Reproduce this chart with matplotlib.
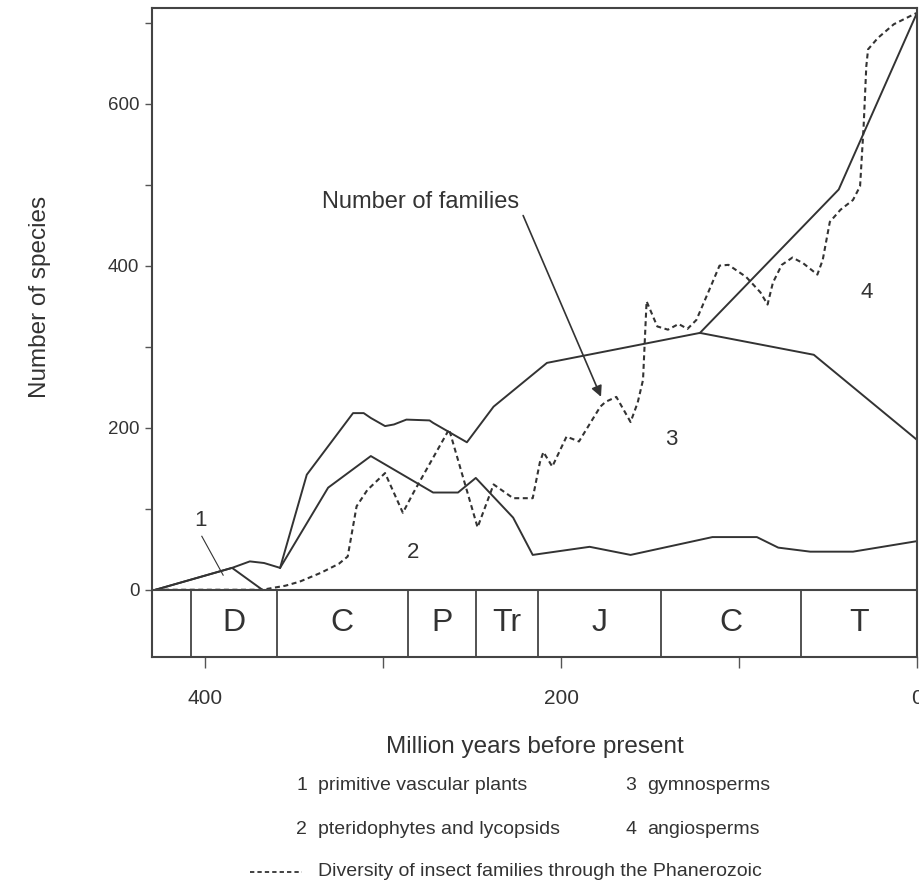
import matplotlib.pyplot as plt
from matplotlib.lines import Line2D

plt.rcParams['font.family'] = ['Liberation Sans', 'DejaVu Sans']

# Data (million years before present, number of species)
prim_t = [428, 385, 368]
prim_v = [0, 27, 0]

pter_t = [428, 385, 375, 367, 358, 331, 307, 272, 258, 248, 227, 216, 184, 161, 115, 90, 78, 60, 36, 0]
pter_v = [0, 27, 35, 33, 27, 126, 165, 120, 120, 138, 89, 43, 53, 43, 65, 65, 52, 47, 47, 60]

gym_t = [358, 343, 317, 311, 307, 299, 294, 287, 274, 272, 253, 238, 208, 122, 58, 0]
gym_v = [27, 142, 218, 218, 212, 202, 204, 210, 209, 206, 182, 226, 280, 317, 290, 185]

angio_t = [122, 44, 0]
angio_v = [317, 494, 712]

insect_t = [428, 368, 355, 347, 335, 325, 320, 315, 309, 299, 289, 283, 263, 247, 238, 227,
            216, 212, 210, 205, 197, 190, 178, 175, 169, 161, 157, 154, 152, 146, 140, 134,
            129, 124, 116, 111, 106, 96, 88, 84, 81, 76, 70, 64, 56, 53, 49, 43, 36, 32,
            30, 28.5, 27.5, 22, 13, 2, 0]
insect_v = [0, 0, 5, 10, 21, 32, 41, 103, 123, 144, 95, 120, 198, 77, 130, 113,
            113, 157, 170, 152, 189, 183, 226, 232, 238, 207, 231, 259, 356, 325, 321, 328,
            322, 333, 374, 400, 401, 386, 367, 352, 379, 401, 410, 403, 389, 407, 454, 469, 481, 498,
            572, 646, 667, 681, 698, 710, 712]

# Geological periods
period_bounds = [408, 360, 286, 248, 213, 144, 65, 0]
period_names = ['D', 'C', 'P', 'Tr', 'J', 'C', 'T']

legend_items = [('1', 'primitive vascular plants'), ('3', 'gymnosperms'),
                ('2', 'pteridophytes and lycopsids'), ('4', 'angiosperms')]

col = '#333333'
W, H = 919, 886
fig = plt.figure(figsize=(W / 100, H / 100), dpi=100)
ax = fig.add_axes([152 / W, 1 - 657 / H, 765 / W, 649 / H])
ax.set_xlim(430, 0)
ax.set_ylim(-83, 718)

for s in ax.spines.values():
    s.set_color('#444444')
    s.set_linewidth(1.5)

lw = 1.4
ax.plot(prim_t, prim_v, color=col, lw=lw)
ax.plot(pter_t, pter_v, color=col, lw=lw)
ax.plot(gym_t, gym_v, color=col, lw=lw)
ax.plot(angio_t, angio_v, color=col, lw=lw)
ax.plot(insect_t, insect_v, color=col, lw=1.5, linestyle=(0, (2.4, 1.7)))

# period band
ax.axhline(0, color='#444444', lw=1.5)
ax.vlines(period_bounds, -83, 0, color='#444444', lw=1.3)
for i, name in enumerate(period_names):
    mid = (period_bounds[i] + period_bounds[i + 1]) / 2
    ax.text(mid, -41, name, ha='center', va='center', fontsize=23, color=col)

# curve numbers
ax.text(403, 86, '1', ha='center', va='center', fontsize=16, color=col)
ax.plot([402, 390], [66, 18], color=col, lw=0.8)
ax.text(283, 46, '2', ha='center', va='center', fontsize=16, color=col)
ax.text(138, 185, '3', ha='center', va='center', fontsize=16, color=col)
ax.text(28, 367, '4', ha='center', va='center', fontsize=16, color=col)

ax.text(279, 478, 'Number of families', ha='center', va='center', fontsize=17, color=col)
ax.annotate('', xy=(177, 235), xytext=(222, 465),
            arrowprops=dict(arrowstyle='-|>', color=col, lw=1.2, mutation_scale=16))

ax.set_yticks(range(0, 800, 100))
ax.set_yticklabels(['0', '', '200', '', '400', '', '600', ''])
ax.set_xticks([400, 300, 200, 100, 0])
ax.set_xticklabels(['400', '', '200', '', '0'])
ax.tick_params(axis='y', length=5, width=1, color='#555555', labelsize=13.5, labelcolor=col, pad=4)
ax.tick_params(axis='x', length=8, width=1, color='#555555', labelsize=15, labelcolor=col, pad=15)
ax.set_xlabel('Million years before present', fontsize=17.5, color=col, labelpad=20)

fig.text(40 / W, 1 - 297 / H, 'Number of species', rotation=90, ha='center', va='center',
         fontsize=17.5, color=col)

# legend
rows = [786, 786, 829, 829]
cols = [296, 625, 296, 625]
for (num, txt), y, x in zip(legend_items, rows, cols):
    fig.text(x / W, 1 - y / H, num, ha='left', va='center', fontsize=14, color=col)
    fig.text((x + 22) / W, 1 - y / H, txt, ha='left', va='center', fontsize=14, color=col)
fig.add_artist(Line2D([250 / W, 302 / W], [1 - 872 / H, 1 - 872 / H], color=col, lw=1.3,
                      linestyle=(0, (2.4, 1.7)), transform=fig.transFigure))
fig.text(318 / W, 1 - 872 / H, 'Diversity of insect families through the Phanerozoic',
         ha='left', va='center', fontsize=14, color=col)

fig.savefig('out.png', dpi=100)
